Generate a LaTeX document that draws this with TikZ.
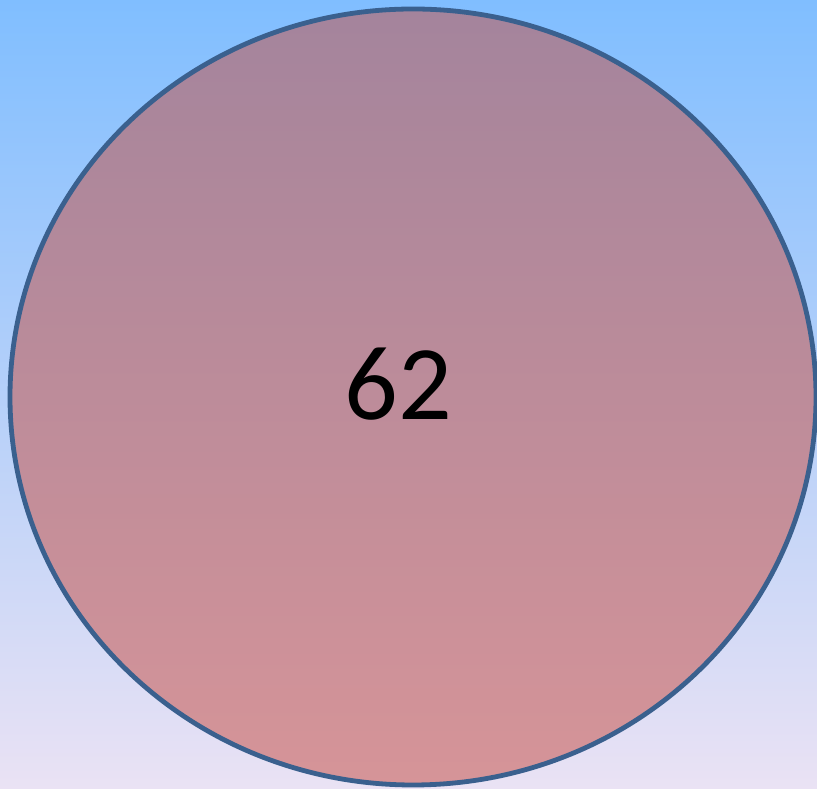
\documentclass[tikz,border=0pt]{standalone}
\usepackage{fontspec}
\setmainfont{Carlito}
\usepackage{tikz}
\usetikzlibrary{shapes.geometric}
\definecolor{skytop}{RGB}{128,190,255}
\definecolor{skybottom}{RGB}{234,226,244}
\definecolor{disctop}{RGB}{164,132,156}
\definecolor{discbottom}{RGB}{214,148,152}
\definecolor{rimblue}{RGB}{58,96,142}
\tikzset{
  backdrop/.style={top color=skytop,bottom color=skybottom,draw=none},
  bigdisc/.style={
    ellipse,
    draw=rimblue,
    line width=4.8pt,
    top color=disctop,
    bottom color=discbottom,
    minimum width=806pt,
    minimum height=776pt,
    inner sep=0pt
  },
  bignumber/.style={font=\fontsize{106}{120}\selectfont,text=black}
}

\begin{document}
\begin{tikzpicture}[x=1pt,y=1pt]
  % background
  \fill[backdrop] (0,0) rectangle (817,789);
  \useasboundingbox (0,0) rectangle (817,789);
  % disc and its number
  \node[bigdisc] (disc) at (413,392) {};
  \node[bignumber] (count) at (398,405) {62};
\end{tikzpicture}
\end{document}
